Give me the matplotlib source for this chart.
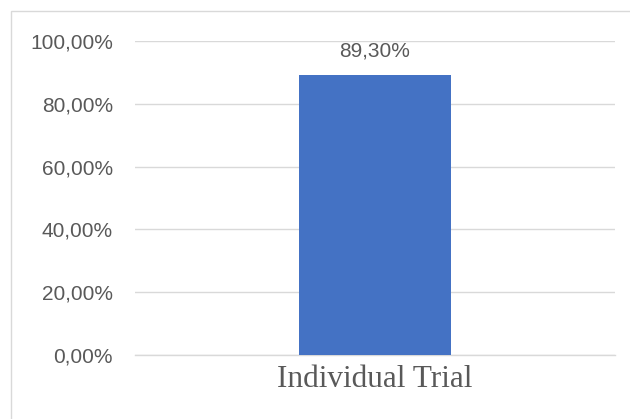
import numpy as np
import matplotlib
matplotlib.use('Agg')
from matplotlib import pyplot as plt
from matplotlib.patches import Rectangle

## data
categories = ['Individual Trial']
values = [89.30]
y_ticks = [0, 20, 40, 60, 80, 100]

## colours
bar_color = '#4472C4'
grid_color = '#D9D9D9'
text_color = '#595959'

def pct(v):
    return ('%.2f%%' % v).replace('.', ',')

fig = plt.figure(figsize=(6.3, 4.19), dpi=100)
ax = fig.add_axes([135/630, 1 - 355/419, 480/630, 314/419])

x = np.arange(len(categories))
ax.bar(x, values, width=0.315, color=bar_color, zorder=3)

## data labels
for xi, v in zip(x, values):
    ax.annotate(pct(v), (xi, v), xytext=(0, 10), textcoords='offset points',
                ha='center', va='bottom', fontsize=15, color=text_color,
                family='Liberation Sans')

ax.set_xlim(-0.5, 0.5)
ax.set_ylim(0, 100)
ax.set_yticks(y_ticks)
ax.set_yticklabels([pct(t) for t in y_ticks], fontsize=15, color=text_color,
                   family='Liberation Sans')
ax.set_xticks(x)
ax.set_xticklabels(categories, fontsize=22.5, color=text_color,
                   family='Liberation Serif')
ax.tick_params(axis='y', length=0, pad=16)
ax.tick_params(axis='x', length=0, pad=7)

ax.grid(axis='y', color=grid_color, linewidth=1.0, zorder=0)
for s in ['top', 'right', 'left']:
    ax.spines[s].set_visible(False)
ax.spines['bottom'].set_color(grid_color)
ax.spines['bottom'].set_linewidth(1.0)

## chart border (cropped at right and bottom like the original)
fig.patches.append(Rectangle((11/630, -0.1), 1.2, 1 - 11/419 + 0.1,
                             transform=fig.transFigure, fill=False,
                             edgecolor=grid_color, linewidth=1.0))

fig.savefig('out.png', dpi=100)
